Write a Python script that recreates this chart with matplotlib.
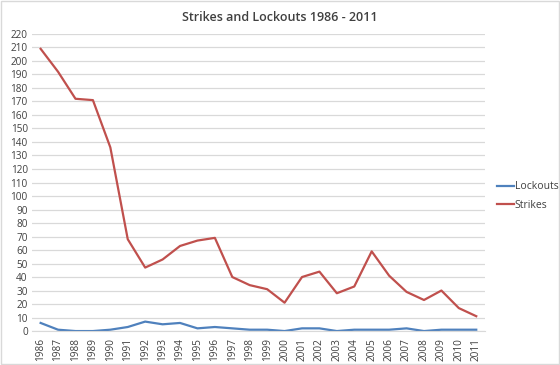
import matplotlib
matplotlib.use("Agg")
import matplotlib.pyplot as plt
from matplotlib.patches import Rectangle

years = [str(y) for y in range(1986, 2012)]
strikes = [209, 192, 172, 171, 136, 68, 47, 53, 63, 67, 69, 40, 34, 31, 21,
           40, 44, 28, 33, 59, 41, 29, 23, 30, 17, 11]
lockouts = [6, 1, 0, 0, 1, 3, 7, 5, 6, 2, 3, 2, 1, 1, 0,
            2, 2, 0, 1, 1, 1, 2, 0, 1, 1, 1]
yticks = list(range(0, 221, 10))

plt.rcParams['font.family'] = ['Open Sans', 'DejaVu Sans']

fig = plt.figure(figsize=(5.6, 3.65), dpi=100)
fig.patch.set_facecolor('white')
fig.add_artist(Rectangle((0.002, 0.003), 0.996, 0.994, transform=fig.transFigure,
                         fill=False, edgecolor='#d9d9d9', linewidth=1))

ax = fig.add_axes([0.057, 0.093, 0.809, 0.814])
x = list(range(len(years)))
ax.plot(x, lockouts, color='#4F81BD', linewidth=1.6, label='Lockouts')
ax.plot(x, strikes, color='#C0504D', linewidth=1.6, label='Strikes')

ax.set_xlim(-0.5, len(years) - 0.5)
ax.set_ylim(0, 220)
ax.set_yticks(yticks)
ax.set_xticks(x)
ax.set_xticklabels(years, rotation=90)
ax.tick_params(axis='both', labelsize=7.2, colors='#404040', length=0, pad=3)
ax.tick_params(axis='x', pad=5)
ax.grid(axis='y', color='#d9d9d9', linewidth=0.9)
ax.set_axisbelow(True)
for s in ['top', 'right', 'left']:
    ax.spines[s].set_visible(False)
ax.spines['bottom'].set_color('#d9d9d9')

fig.text(0.5, 0.953, 'Strikes and Lockouts 1986 - 2011', ha='center', va='center',
         fontsize=9, color='#404040', fontweight='semibold')

leg = ax.legend(loc='center left', bbox_to_anchor=(1.005, 0.455), frameon=False,
                fontsize=7.5, handlelength=1.7, handletextpad=0.05, labelspacing=0.7)
for t in leg.get_texts():
    t.set_color('#404040')

fig.savefig('out.png', dpi=100)
